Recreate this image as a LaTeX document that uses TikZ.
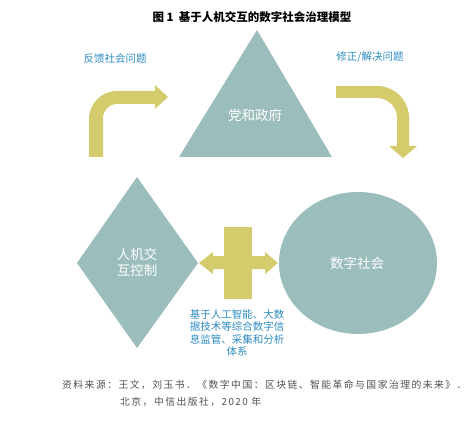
\documentclass[tikz,border=0pt]{standalone}
\usepackage{fontspec}
\newfontfamily\cjk{Noto Sans CJK SC}
\newfontfamily\cjksrc[LetterSpace=15]{Noto Sans CJK SC}
\definecolor{shapeteal}{RGB}{155,189,188}
\definecolor{arrowolive}{RGB}{211,203,108}
\definecolor{labelblue}{RGB}{46,139,192}
\definecolor{sourcegray}{RGB}{80,80,80}

\begin{document}
\begin{tikzpicture}[x=1pt, y=1pt,
    shapelabel/.style={text=white, align=center, font=\cjk\fontsize{13.5}{16}\selectfont},
    bluelabel/.style={text=labelblue, align=center, font=\cjk\fontsize{10.5}{12.3}\selectfont},
    sourceline/.style={anchor=west, inner sep=0pt, text=sourcegray, font=\cjksrc\fontsize{9.8}{12}\selectfont}]
        \useasboundingbox (0,0) rectangle (471,-422);
        % shapes
        \fill[shapeteal] (257,-30) -- (332,-157) -- (179,-157) -- cycle;
        \fill[shapeteal] (137,-177) -- (198,-263) -- (137,-348) -- (77,-263) -- cycle;
        \fill[shapeteal] (358,-263) ellipse[x radius=79, y radius=71];
        % block arrows
        \fill[arrowolive] (89,-157) -- (89,-119) arc[start angle=180, end angle=90, radius=28]
            -- (155,-91) -- (155,-85) -- (168,-97) -- (155,-109) -- (155,-104) -- (117,-104)
            arc[start angle=90, end angle=180, radius=14] -- (103,-157) -- cycle;
        \fill[arrowolive] (336,-86) -- (377,-86) arc[start angle=90, end angle=0, radius=32]
            -- (409,-146) -- (417,-146) -- (403,-158) -- (389,-146) -- (397,-146) -- (397,-118)
            arc[start angle=0, end angle=90, radius=20] -- (336,-98) -- cycle;
        \fill[arrowolive] (224,-227) rectangle (252,-299);
        \fill[arrowolive] (199,-263) -- (213,-252) -- (213,-256) -- (265,-256) -- (265,-252)
            -- (278,-263) -- (265,-274) -- (265,-269) -- (213,-269) -- (213,-274) -- cycle;
        % texts
        \node[font=\cjk\bfseries\fontsize{11.5}{13}\selectfont] (title) at (252,-17) {图 1\ \ 基于人机交互的数字社会治理模型};
        \node[shapelabel] (party) at (255,-115) {党和政府};
        \node[shapelabel] (hci) at (137,-262) {人机交\\互控制};
        \node[shapelabel] (society) at (357,-263) {数字社会};
        \node[bluelabel] (feedback) at (115,-59) {反馈社会问题};
        \node[bluelabel] (fix) at (370,-57) {修正/解决问题};
        \node[bluelabel] (tech) at (237,-333) {基于人工智能、大数\\据技术等综合数字信\\息监管、采集和分析\\体系};
        \node[sourceline] (src1) at (62,-385) {资料来源：王文，刘玉书．《数字中国：区块链、智能革命与国家治理的未来》．};
        \node[sourceline] (src2) at (120,-402) {北京，中信出版社，2020 年};
    \end{tikzpicture}
\end{document}
